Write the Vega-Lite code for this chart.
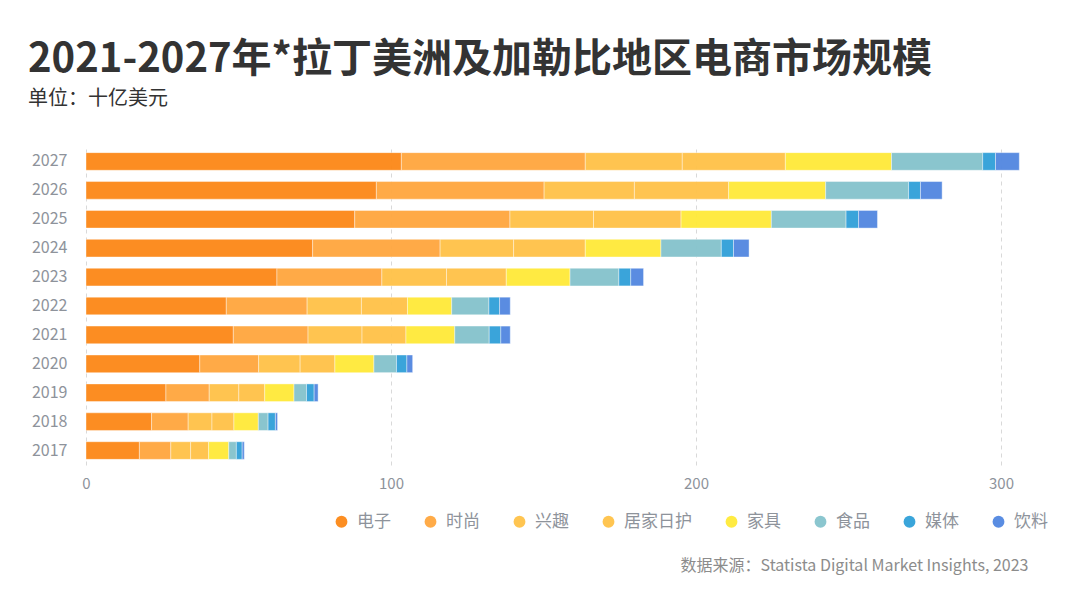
{
  "$schema": "https://vega.github.io/schema/vega-lite/v6.json",
  "autosize": {"type": "none"},
  "width": 976,
  "height": 318,
  "padding": {"left": 86, "top": 147, "right": 18, "bottom": 142},
  "background": "#ffffff",
  "config": {
    "font": "Noto Sans CJK SC",
    "view": {"stroke": null}
  },
  "title": {
    "text": "2021-2027年*拉丁美洲及加勒比地区电商市场规模",
    "subtitle": "单位：十亿美元",
    "anchor": "start",
    "frame": "group",
    "dx": -58,
    "offset": 38,
    "font": "Noto Sans CJK SC",
    "fontSize": 40,
    "fontWeight": "bold",
    "color": "#333333",
    "subtitleFont": "Noto Sans CJK SC",
    "subtitleFontSize": 20,
    "subtitleColor": "#333333",
    "subtitlePadding": 9
  },
  "datasets": {
    "order": [
      {"cat": "电子", "r": 1}, {"cat": "时尚", "r": 2}, {"cat": "兴趣", "r": 3}, {"cat": "居家日护", "r": 4},
      {"cat": "家具", "r": 5}, {"cat": "食品", "r": 6}, {"cat": "媒体", "r": 7}, {"cat": "饮料", "r": 8}
    ]
  },
  "data": {
    "values": [
      {"year": "2017", "电子": 17.5, "时尚": 10.3, "兴趣": 6.5, "居家日护": 5.9, "家具": 6.6, "食品": 2.5, "媒体": 1.9, "饮料": 0.7},
      {"year": "2018", "电子": 21.5, "时尚": 12.0, "兴趣": 7.8, "居家日护": 7.2, "家具": 8.0, "食品": 3.2, "媒体": 2.4, "饮料": 0.7},
      {"year": "2019", "电子": 26.2, "时尚": 14.2, "兴趣": 9.7, "居家日护": 8.5, "家具": 9.6, "食品": 4.1, "媒体": 2.5, "饮料": 1.3},
      {"year": "2020", "电子": 37.3, "时尚": 19.3, "兴趣": 13.6, "居家日护": 11.4, "家具": 12.8, "食品": 7.4, "媒体": 3.4, "饮料": 1.9},
      {"year": "2021", "电子": 48.3, "时尚": 24.5, "兴趣": 17.7, "居家日护": 14.4, "家具": 16.0, "食品": 11.3, "媒体": 3.8, "饮料": 3.1},
      {"year": "2022", "电子": 46.0, "时尚": 26.5, "兴趣": 17.8, "居家日护": 15.1, "家具": 14.5, "食品": 12.2, "媒体": 3.5, "饮料": 3.5},
      {"year": "2023", "电子": 62.6, "时尚": 34.4, "兴趣": 21.2, "居家日护": 19.6, "家具": 20.9, "食品": 16.0, "媒体": 3.9, "饮料": 4.2},
      {"year": "2024", "电子": 74.3, "时尚": 41.8, "兴趣": 24.1, "居家日护": 23.5, "家具": 24.8, "食品": 19.8, "媒体": 4.0, "饮料": 5.1},
      {"year": "2025", "电子": 88.1, "时尚": 50.9, "兴趣": 27.4, "居家日护": 28.7, "家具": 29.6, "食品": 24.5, "媒体": 4.1, "饮料": 6.2},
      {"year": "2026", "电子": 95.2, "时尚": 55.0, "兴趣": 29.6, "居家日护": 30.9, "家具": 31.8, "食品": 27.2, "媒体": 3.9, "饮料": 7.1},
      {"year": "2027", "电子": 103.4, "时尚": 60.3, "兴趣": 31.8, "居家日护": 33.8, "家具": 34.8, "食品": 29.9, "媒体": 4.2, "饮料": 7.8}
    ]
  },
  "transform": [
    {"fold": ["电子", "时尚", "兴趣", "居家日护", "家具", "食品", "媒体", "饮料"], "as": ["cat", "v"]},
    {"lookup": "cat", "from": {"data": {"name": "order"}, "key": "cat", "fields": ["r"]}}
  ],
  "mark": {"type": "bar", "stroke": "#ffffff", "strokeWidth": 0.8, "strokeOpacity": 0.5, "opacity": 0.97},
  "encoding": {
    "y": {
      "field": "year", "type": "ordinal", "sort": "descending",
      "scale": {"paddingInner": 0.39, "paddingOuter": 0.195},
      "axis": {"title": null, "domain": false, "ticks": false, "labelPadding": 19, "labelFontSize": 16, "labelColor": "#8e939b", "labelFont": "Noto Sans CJK SC"}
    },
    "x": {
      "field": "v", "type": "quantitative", "stack": "zero",
      "scale": {"domain": [0, 320], "nice": false},
      "axis": {
        "values": [0, 100, 200, 300],
        "grid": true, "gridDash": [4, 4], "gridColor": "#d9d9d9", "gridWidth": 1,
        "domain": false, "ticks": false, "labelFlush": false,
        "labelPadding": 11, "labelFontSize": 15, "labelColor": "#8e939b", "labelFont": "Noto Sans CJK SC",
        "title": "数据来源：Statista Digital Market Insights, 2023",
        "titleFont": "Noto Sans CJK SC", "titleFontSize": 16, "titleFontWeight": "normal", "titleColor": "#8c8c8c",
        "titleAnchor": "end", "titleAlign": "right", "titleX": 942, "titlePadding": 66
      }
    },
    "color": {
      "field": "cat", "type": "nominal",
      "scale": {
        "domain": ["电子", "时尚", "兴趣", "居家日护", "家具", "食品", "媒体", "饮料"],
        "range": ["#FC8A1B", "#FFA842", "#FFC34B", "#FFC34B", "#FFEA3C", "#87C4CD", "#34A2D9", "#5589E1"]
      },
      "legend": {
        "title": null, "orient": "none", "direction": "horizontal",
        "legendX": 247, "legendY": 366,
        "symbolType": "circle", "symbolSize": 140, "symbolStrokeWidth": 0,
        "labelFontSize": 17, "labelColor": "#8e939b", "labelFont": "Noto Sans CJK SC",
        "labelOffset": 7, "columnPadding": 31
      }
    },
    "order": {"field": "r", "type": "quantitative"}
  }
}
